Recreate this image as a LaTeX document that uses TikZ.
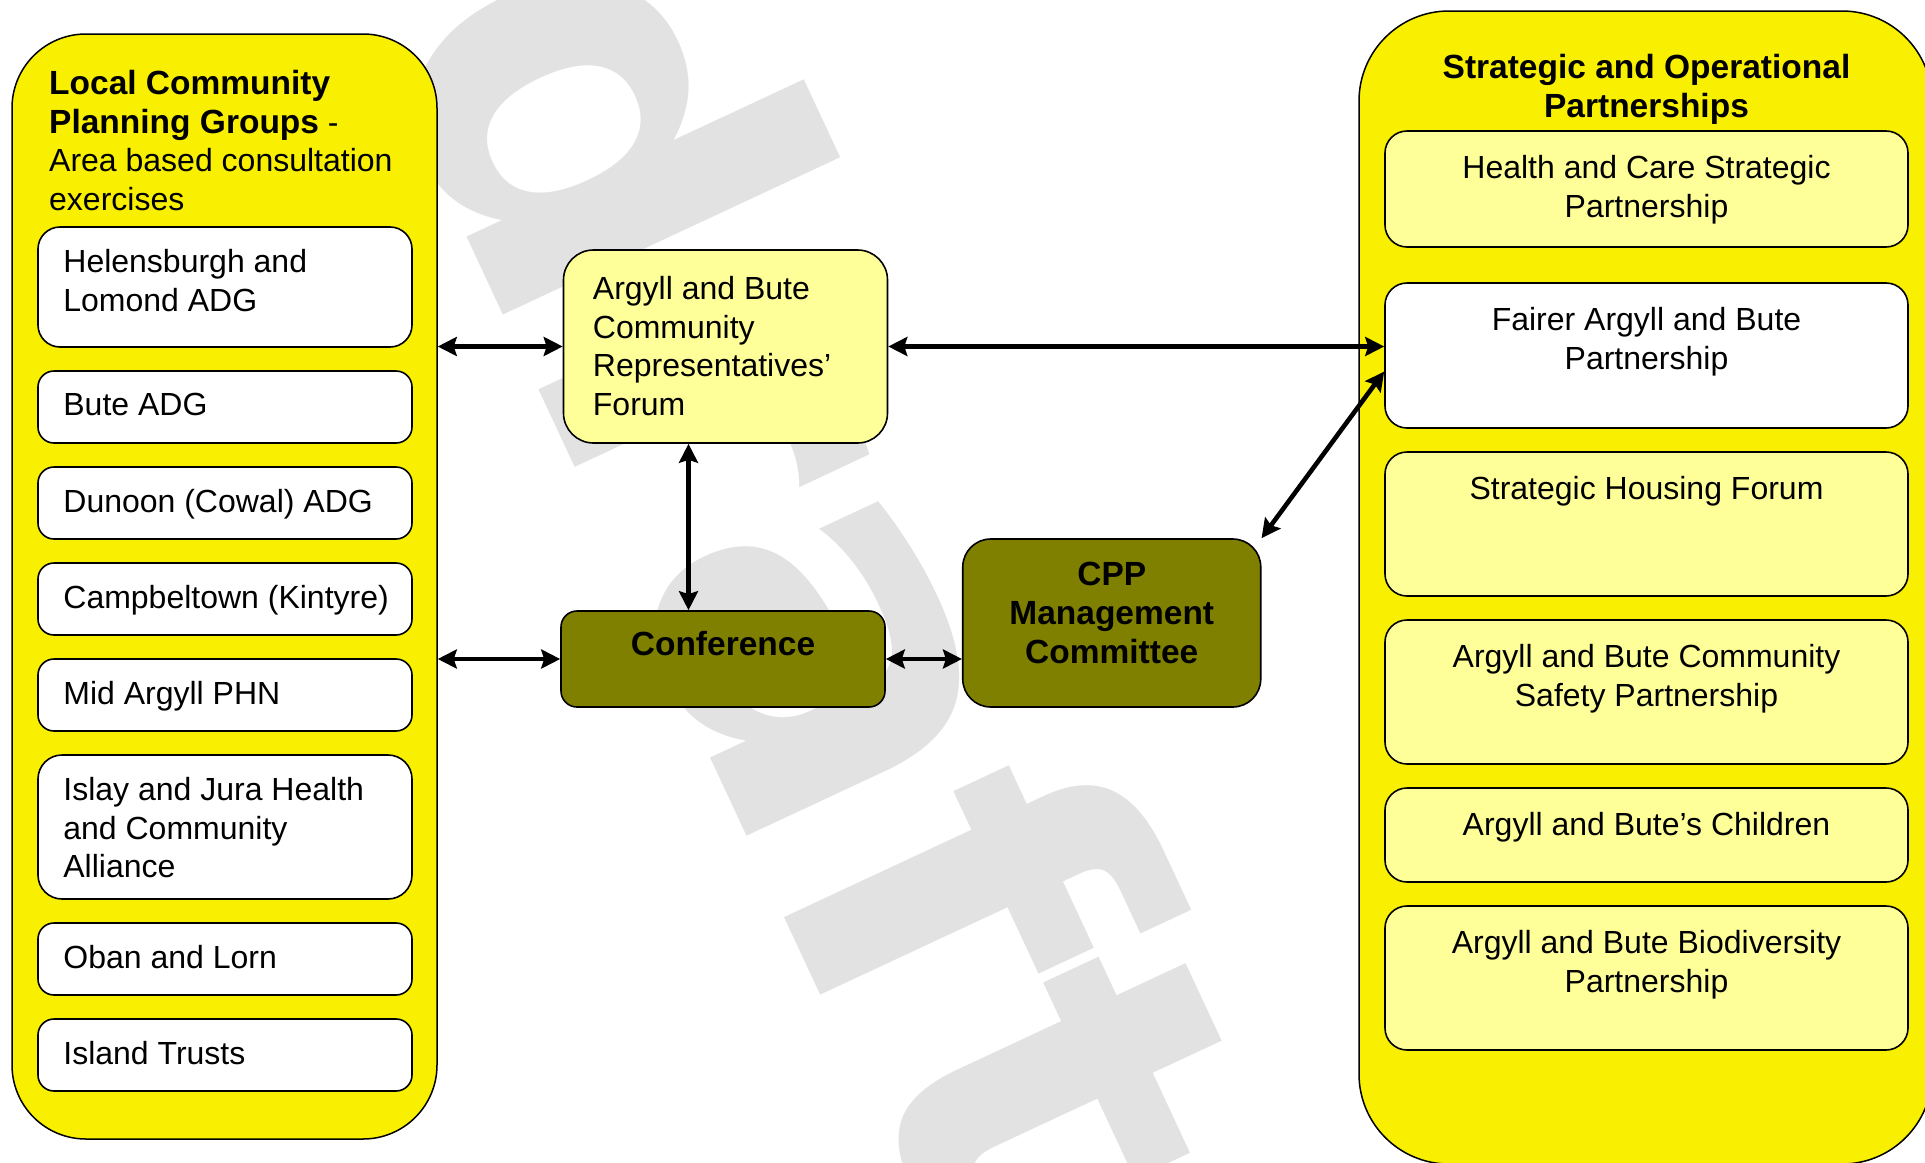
\documentclass[tikz,border=0pt]{standalone}
\usepackage{fontspec}
\setmainfont{Liberation Sans}
\newfontfamily\wmfont{DejaVu Sans}
\usetikzlibrary{arrows.meta,calc}

\definecolor{grpyellow}{RGB}{248,240,0}
\definecolor{paleyellow}{RGB}{255,255,153}
\definecolor{olivebox}{RGB}{128,128,0}
\definecolor{wmgray}{RGB}{226,226,226}

\newcommand{\bodyfont}{\fontsize{32}{38.6}\selectfont}
\newcommand{\headfont}{\fontsize{33.5}{38.6}\selectfont\bfseries}

\begin{document}
\begin{tikzpicture}[x=1pt, y=-1pt, >={Stealth[length=19pt,width=19pt,inset=3pt]},
  group/.style={draw, line width=1.5pt, fill=grpyellow, inner sep=0pt},
  card/.style={draw, line width=1.6pt, inner sep=0pt},
  txt/.style={font=\bodyfont, inner sep=0pt},
  link/.style={<->, line width=4.6pt},
  wmark/.style={text=wmgray, rotate=-65, inner sep=0pt,
    font=\wmfont\fontsize{490}{490}\selectfont\bfseries}]
\useasboundingbox (0,0) rectangle (1925,1162);
\clip (0,0) rectangle (1925,1162);

% watermark
\node[wmark] (wm) at (828,578) {draft};

% the two groups
\node[group, rounded corners=74pt, minimum width=425pt, minimum height=1105pt]
  (lcpg) at (224.5,586.5) {};
\node[group, rounded corners=90pt, minimum width=573pt, minimum height=1153pt]
  (sop) at (1645.5,587.5) {};

\node[txt, anchor=north west, align=left] (lcpg-title) at (49,70)
  {{\headfont Local Community}\\{\headfont Planning Groups} -\\Area based consultation\\exercises};
\node[txt, anchor=north, align=center, font=\headfont] (sop-title) at (1646.5,54)
  {Strategic and Operational\\Partnerships};

% area groups
\foreach \t/\y/\h/\r [count=\i] in {
    {Helensburgh and\\Lomond ADG}/227/120/22,
    {Bute ADG}/371/72/16,
    {Dunoon (Cowal) ADG}/467/72/16,
    {Campbeltown (Kintyre)}/563/72/16,
    {Mid Argyll PHN}/659/72/16,
    {Islay and Jura Health\\and Community\\Alliance}/755/144/24,
    {Oban and Lorn}/923/72/16,
    {Island Trusts}/1019/72/16}
{
  \node[card, fill=white, rounded corners=\r pt, minimum width=374pt, minimum height=\h pt]
    (area-\i) at (225,{\y+\h/2}) {};
  \node[txt, anchor=north west, align=left] (area-\i-txt)
    at ($(area-\i.north west)+(26,23)$) {\t};
}

% partnerships
\foreach \t/\y/\h/\c [count=\i] in {
    {Health and Care Strategic\\Partnership}/131/116/paleyellow,
    {Fairer Argyll and Bute\\Partnership}/283/145/white,
    {Strategic Housing Forum}/452/144/paleyellow,
    {Argyll and Bute Community\\Safety Partnership}/620/144/paleyellow,
    {Argyll and Bute’s Children}/788/94/paleyellow,
    {Argyll and Bute Biodiversity\\Partnership}/906/144/paleyellow}
{
  \node[card, fill=\c, rounded corners=22pt, minimum width=523pt, minimum height=\h pt]
    (part-\i) at (1646.5,{\y+\h/2}) {};
  \node[txt, anchor=north, align=center] (part-\i-txt)
    at ($(part-\i.north)+(0,25)$) {\t};
}

% middle
\node[card, fill=paleyellow, rounded corners=30pt, minimum width=324pt, minimum height=193pt]
  (forum) at (725.5,346.5) {};
\node[txt, anchor=north west, align=left] (forum-txt) at ($(forum.north west)+(30,27)$)
  {Argyll and Bute\\Community\\Representatives’\\Forum};

\node[card, fill=olivebox, rounded corners=16pt, minimum width=324pt, minimum height=96pt]
  (conf) at (723,659) {};
\node[txt, anchor=north, font=\headfont] (conf-txt) at ($(conf.north)+(0,21)$) {Conference};

\node[card, fill=olivebox, rounded corners=28pt, minimum width=298pt, minimum height=168pt]
  (cpp) at (1111.75,623) {};
\node[txt, anchor=north, align=center, font=\headfont] (cpp-txt) at ($(cpp.north)+(0,24)$)
  {CPP\\Management\\Committee};

% links
\draw[link] (forum.west -| lcpg.east) -- (forum.west);
\draw[link] (conf.west -| lcpg.east) -- (conf.west);
\draw[link] ([xshift=-37pt]forum.south) -- ([xshift=-37pt]forum.south |- conf.north);
\draw[link] (conf.east) -- (conf.east -| cpp.west);
\draw[link] (forum.east) -- (forum.east -| part-2.west);
\draw[link] (cpp.north east) -- ($(part-2.west)+(0,16)$);
\end{tikzpicture}
\end{document}
